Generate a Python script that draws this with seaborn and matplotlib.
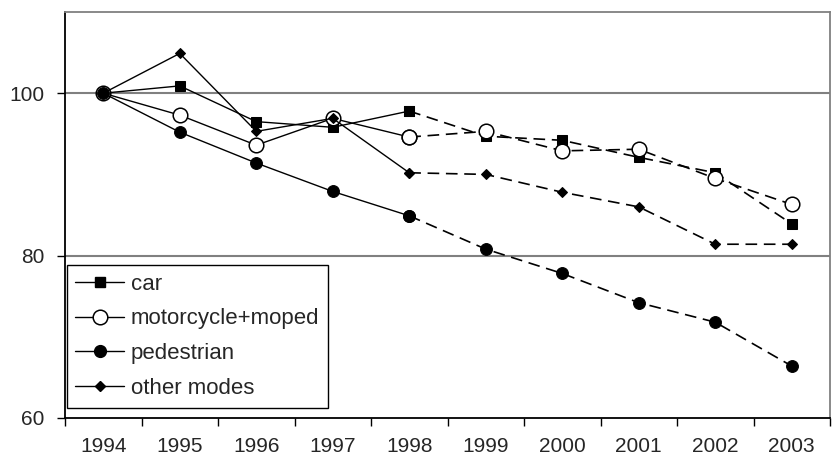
import matplotlib
matplotlib.use("Agg")
import matplotlib.pyplot as plt
import seaborn as sns
import pandas as pd
from matplotlib.lines import Line2D
from matplotlib.ticker import FixedLocator, NullFormatter

years = ["1994", "1995", "1996", "1997", "1998", "1999", "2000", "2001", "2002", "2003"]
car = [100, 100.9, 96.5, 95.8, 97.8, 94.7, 94.2, 92.1, 90.2, 83.9]
motorcycle = [100, 97.3, 93.6, 96.9, 94.6, 95.3, 92.9, 93.1, 89.5, 86.3]
pedestrian = [100, 95.2, 91.4, 87.9, 84.9, 80.8, 77.8, 74.2, 71.8, 66.4]
other = [100, 104.9, 95.3, 96.9, 90.2, 90.0, 87.8, 86.0, 81.4, 81.4]
series_names = ["car", "motorcycle+moped", "pedestrian", "other modes"]
split_index = 4  # solid up to 1998, dashed afterwards

sns.set_style("white")
plt.rcParams["font.family"] = ["Liberation Sans", "DejaVu Sans"]

fig = plt.figure(figsize=(8.36, 4.59), dpi=100)
ax = fig.add_axes([65 / 836, 41 / 459, 765 / 836, 406 / 459])

styles = {
    "car": dict(marker="s", markersize=6.5, markerfacecolor="black", markeredgecolor="black"),
    "motorcycle+moped": dict(marker="o", markersize=10.5, markerfacecolor="white",
                             markeredgecolor="black", markeredgewidth=1.1),
    "pedestrian": dict(marker="o", markersize=8.5, markerfacecolor="black", markeredgecolor="black"),
    "other modes": dict(marker="D", markersize=5.5, markerfacecolor="black", markeredgecolor="black"),
}

values = {"car": car, "motorcycle+moped": motorcycle, "pedestrian": pedestrian, "other modes": other}
pos = list(range(len(years)))

for name in series_names:
    v = values[name]
    st = styles[name]
    df1 = pd.DataFrame({"x": pos[:split_index + 1], "y": v[:split_index + 1]})
    df2 = pd.DataFrame({"x": pos[split_index:], "y": v[split_index:]})
    sns.lineplot(data=df2, x="x", y="y", ax=ax, color="black", linewidth=1.2,
                 linestyle=(0, (7, 4)), **st)
    sns.lineplot(data=df1, x="x", y="y", ax=ax, color="black", linewidth=1.0, **st)

ax.set_xlim(-0.5, len(years) - 0.5)
ax.set_ylim(60, 110)
ax.set_xlabel("")
ax.set_ylabel("")

ax.xaxis.set_major_locator(FixedLocator([i - 0.5 for i in range(len(years) + 1)]))
ax.xaxis.set_major_formatter(NullFormatter())
ax.xaxis.set_minor_locator(FixedLocator(pos))
ax.set_xticklabels(years, minor=True)
ax.tick_params(axis="x", which="major", direction="out", length=6, width=1, color="black", bottom=True)
ax.tick_params(axis="x", which="minor", length=0, labelsize=15, pad=14)

ax.set_yticks([60, 80, 100])
ax.tick_params(axis="y", direction="out", length=6, width=1, color="black", left=True, labelsize=15, pad=9)

for y in [80, 100]:
    ax.axhline(y, color="#808080", linewidth=1.5, zorder=0)

ax.spines["left"].set_color("black")
ax.spines["bottom"].set_color("black")
ax.spines["top"].set_color("#808080")
ax.spines["right"].set_color("#808080")
for s in ax.spines.values():
    s.set_linewidth(1.3)

handles = [Line2D([0], [0], color="black", linewidth=1.0, **styles[n]) for n in series_names]
leg = ax.legend(handles, series_names, loc="lower left", bbox_to_anchor=(0.002, 0.025),
                borderaxespad=0, frameon=True, fancybox=False, fontsize=16,
                handlelength=2.2, handletextpad=0.3, labelspacing=0.62, borderpad=0.4)
leg.get_frame().set_edgecolor("black")
leg.get_frame().set_linewidth(1.0)
leg.get_frame().set_alpha(1)

fig.savefig("out.png", dpi=100)
